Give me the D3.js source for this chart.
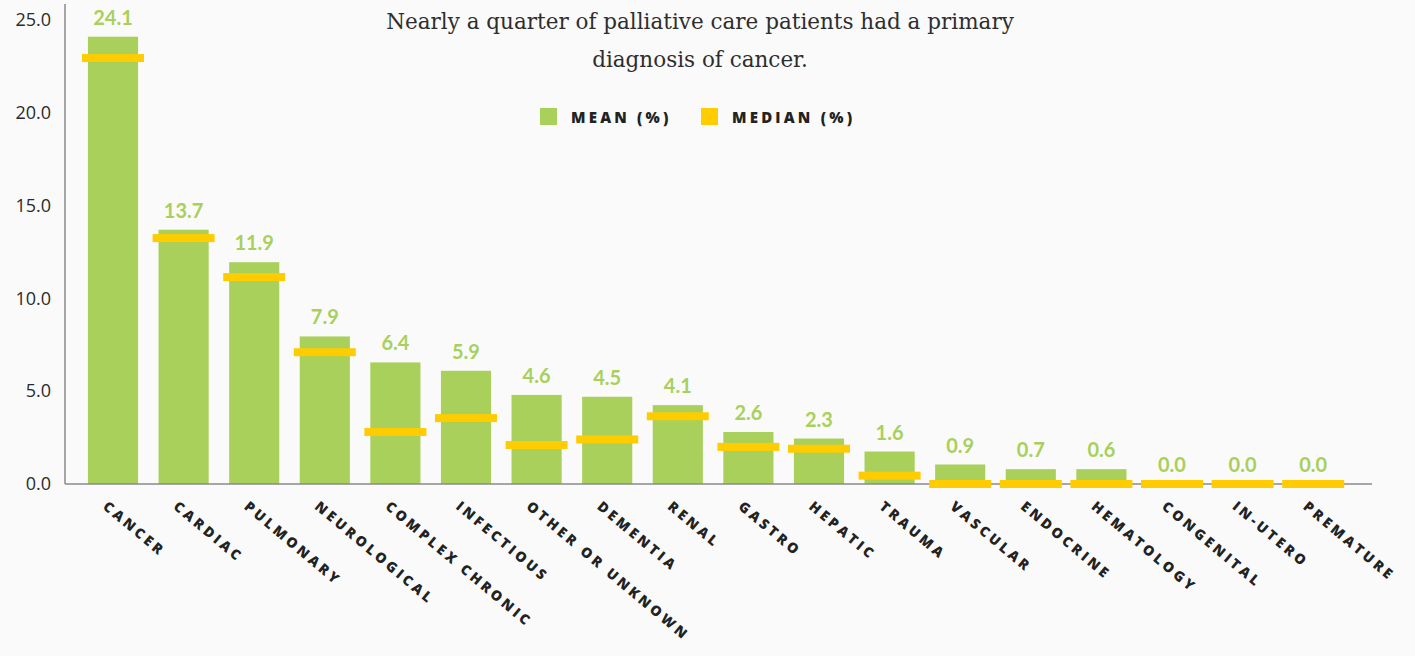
<!DOCTYPE html>
<html>
<head>
<meta charset="utf-8">
<script src="https://cdn.jsdelivr.net/npm/d3@7"></script>
<style>
  body { margin: 0; background: #fafafa; }
  svg { display: block; }
  .ytick text { font-family: "Open Sans", sans-serif; font-size: 18px; fill: #2a2a2a; }
  .xlab { font-family: "Open Sans", sans-serif; font-weight: 800; font-size: 14px; letter-spacing: 3.2px; fill: #222; }
  .val { font-family: Lato, sans-serif; font-weight: 700; font-size: 20px; fill: #a8d05a; }
  .title { font-family: "DejaVu Serif", serif; font-size: 21.5px; fill: #2e2e2e; }
  .leg { font-family: "Open Sans", sans-serif; font-weight: 800; font-size: 15px; letter-spacing: 3.2px; fill: #222; }
</style>
</head>
<body>
<script>
// data
var categories = ["CANCER", "CARDIAC", "PULMONARY", "NEUROLOGICAL", "COMPLEX CHRONIC", "INFECTIOUS",
  "OTHER OR UNKNOWN", "DEMENTIA", "RENAL", "GASTRO", "HEPATIC", "TRAUMA", "VASCULAR", "ENDOCRINE",
  "HEMATOLOGY", "CONGENITAL", "IN-UTERO", "PREMATURE"];
var meanValues = [24.1, 13.7, 11.95, 7.95, 6.55, 6.1, 4.8, 4.7, 4.25, 2.8, 2.45, 1.75, 1.05, 0.8, 0.8, 0, 0, 0];
var meanLabels = ["24.1", "13.7", "11.9", "7.9", "6.4", "5.9", "4.6", "4.5", "4.1", "2.6", "2.3", "1.6", "0.9", "0.7", "0.6", "0.0", "0.0", "0.0"];
var medianValues = [22.95, 13.25, 11.15, 7.1, 2.8, 3.55, 2.1, 2.4, 3.65, 2.0, 1.9, 0.45, 0, 0, 0, 0, 0, 0];
var yTicks = [0, 5, 10, 15, 20, 25];
var titleLines = ["Nearly a quarter of palliative care patients had a primary", "diagnosis of cancer."];
var legendItems = ["MEAN (%)", "MEDIAN (%)"];

var width = 1415, height = 656;
var green = "#a8d05a", yellow = "#ffcc00";

var svg = d3.select("body").append("svg")
  .attr("width", width)
  .attr("height", height);

var x = d3.scaleBand().domain(categories).range([77.7, 1348.5]);
var y = d3.scaleLinear().domain([0, 25]).range([484, 20]);

var barW = x.bandwidth() * 0.71;
var medW = 62;

// bars
svg.selectAll(".bar")
  .data(meanValues)
  .enter()
  .append("rect")
  .attr("class", "bar")
  .attr("x", function (d, i) { return x(categories[i]) + x.bandwidth() / 2 - barW / 2; })
  .attr("y", function (d) { return y(d); })
  .attr("width", barW)
  .attr("height", function (d) { return y(0) - y(d); })
  .attr("fill", green);

// axes
svg.append("line")
  .attr("x1", 65).attr("x2", 1372)
  .attr("y1", y(0)).attr("y2", y(0))
  .attr("stroke", "#8a8a8a").attr("stroke-width", 1.5);
svg.append("line")
  .attr("x1", 65).attr("x2", 65)
  .attr("y1", 4).attr("y2", y(0))
  .attr("stroke", "#8a8a8a").attr("stroke-width", 1.5);

var yAxis = d3.axisLeft(y).tickValues(yTicks).tickFormat(d3.format(".1f")).tickSize(0).tickPadding(14);
var yg = svg.append("g")
  .attr("class", "ytick")
  .attr("transform", "translate(65,0)")
  .call(yAxis);
yg.select(".domain").remove();
yg.attr("font-family", null).attr("font-size", null);

// medians
svg.selectAll(".med")
  .data(medianValues)
  .enter()
  .append("rect")
  .attr("class", "med")
  .attr("x", function (d, i) { return x(categories[i]) + x.bandwidth() / 2 - medW / 2; })
  .attr("y", function (d) { return y(d) - 4; })
  .attr("width", medW)
  .attr("height", 8)
  .attr("fill", yellow);

// value labels
svg.selectAll(".val")
  .data(meanValues)
  .enter()
  .append("text")
  .attr("class", "val")
  .attr("text-anchor", "middle")
  .attr("x", function (d, i) { return x(categories[i]) + x.bandwidth() / 2; })
  .attr("y", function (d) { return y(d) - 12; })
  .text(function (d, i) { return meanLabels[i]; });

// category labels
svg.selectAll(".xlab")
  .data(categories)
  .enter()
  .append("text")
  .attr("class", "xlab")
  .attr("transform", function (d) {
    return "translate(" + (x(d) + x.bandwidth() / 2 - 11) + "," + 508 + ") rotate(40)";
  })
  .text(function (d) { return d; });

// title
svg.selectAll(".title")
  .data(titleLines)
  .enter()
  .append("text")
  .attr("class", "title")
  .attr("text-anchor", "middle")
  .attr("x", 700)
  .attr("y", function (d, i) { return 29 + i * 38; })
  .text(function (d) { return d; });

// legend
var legX = [540, 701];
var leg = svg.selectAll(".legitem")
  .data(legendItems)
  .enter()
  .append("g")
  .attr("transform", function (d, i) { return "translate(" + legX[i] + ",108)"; });
leg.append("rect")
  .attr("width", 17).attr("height", 17)
  .attr("fill", function (d, i) { return i == 0 ? green : yellow; });
leg.append("text")
  .attr("class", "leg")
  .attr("x", 31)
  .attr("y", 15)
  .text(function (d) { return d; });
</script>
</body>
</html>
